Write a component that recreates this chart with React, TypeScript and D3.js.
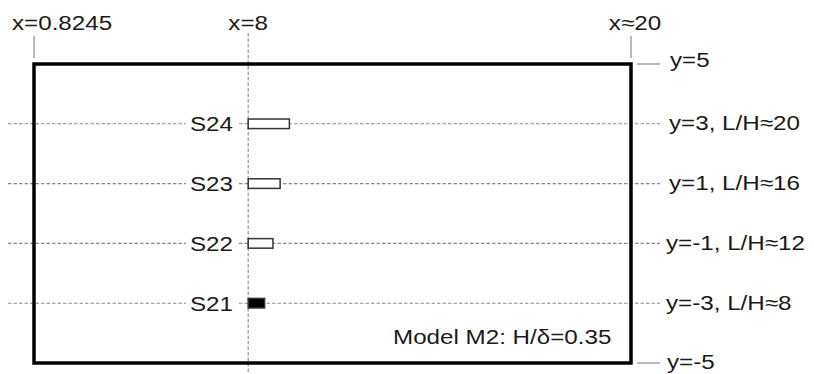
import React from "react";
import * as d3 from "d3";

const W = 814;
const H = 374;

// domain
const xDomain = [0.8245, 20.8245];
const yDomain = [-5, 5];
const xColumn = 8;

// specimens
const specimens = ["S21", "S22", "S23", "S24"];
const specimenY = [-3, -1, 1, 3];
const ratioLabels = ["L/H≈8", "L/H≈12", "L/H≈16", "L/H≈20"];
const barLengths = [0.55, 0.83, 1.07, 1.38];
const barFilled = [true, false, false, false];
const barThickness = 0.32;

const topLabels = ["x=0.8245", "x=8", "x≈20"];
const topLabelX = [0.8245, 8, 20.8245];
const boundLabels = ["y=5", "y=-5"];
const boundY = [5, -5];
const modelText = "Model M2: H/δ=0.35";

const FONT = "'Liberation Sans', Arial, Helvetica, sans-serif";
const FS = 20.5;
const SX = 1.18;

function T({ x, y, anchor = "start", children }: any) {
  return (
    <text
      transform={`translate(${x},${y}) scale(${SX},1)`}
      textAnchor={anchor}
      fontFamily={FONT}
      fontSize={FS}
      fill="#1a1a1a"
    >
      {children}
    </text>
  );
}

export default function App() {
  const x = d3.scaleLinear().domain(xDomain).range([34, 631]);
  const y = d3.scaleLinear().domain(yDomain).range([363, 64]);
  const xc = x(xColumn);

  return (
    <svg
      width={W}
      height={H}
      style={{ position: "absolute", left: 0, top: 0, background: "#fff" }}
    >
      <rect x={0} y={0} width={W} height={H} fill="#fff" />
      {/* horizontal dashed lines */}
      {specimenY.map((v, i) => (
        <line
          key={"h" + i}
          x1={8}
          x2={660}
          y1={y(v)}
          y2={y(v)}
          stroke="#8a8a8a"
          strokeWidth={1.1}
          strokeDasharray="3.5,2"
        />
      ))}
      {/* vertical dashed line */}
      <line
        x1={xc}
        x2={xc}
        y1={33}
        y2={H}
        stroke="#8a8a8a"
        strokeWidth={1.1}
        strokeDasharray="3.5,2"
      />
      {/* domain box */}
      <rect
        x={x(xDomain[0])}
        y={y(yDomain[1])}
        width={x(xDomain[1]) - x(xDomain[0])}
        height={y(yDomain[0]) - y(yDomain[1])}
        fill="none"
        stroke="#000"
        strokeWidth={3.5}
      />
      {/* top ticks */}
      {[xDomain[0], xDomain[1]].map((v, i) => (
        <line
          key={"tt" + i}
          x1={x(v)}
          x2={x(v)}
          y1={36}
          y2={58}
          stroke="#8a8a8a"
          strokeWidth={1.2}
        />
      ))}
      {/* right ticks */}
      {boundY.map((v, i) => (
        <line
          key={"rt" + i}
          x1={637}
          x2={660}
          y1={y(v)}
          y2={y(v)}
          stroke="#8a8a8a"
          strokeWidth={1.2}
        />
      ))}
      {/* top labels */}
      <T x={12} y={30}>{topLabels[0]}</T>
      <T x={x(topLabelX[1])} y={30} anchor="middle">{topLabels[1]}</T>
      <T x={x(topLabelX[2]) + 4} y={30} anchor="middle">{topLabels[2]}</T>
      {/* bound labels */}
      <T x={670} y={y(boundY[0]) + 3}>{boundLabels[0]}</T>
      <T x={667} y={y(boundY[1]) + 6}>{boundLabels[1]}</T>
      {/* specimen labels + bars */}
      {specimens.map((s, i) => {
        const yy = y(specimenY[i]);
        return (
          <g key={s}>
            <rect x={186} y={yy - 10} width={51} height={20} fill="#fff" />
            <T x={233} y={yy + 7.5} anchor="end">{s}</T>
            <rect
              x={xc}
              y={y(specimenY[i] + barThickness / 2)}
              width={x(xColumn + barLengths[i]) - xc}
              height={y(specimenY[i] - barThickness / 2) - y(specimenY[i] + barThickness / 2)}
              fill={barFilled[i] ? "#000" : "#fff"}
              stroke="#333"
              strokeWidth={1.5}
            />
            <T x={specimenY[i] < 0 ? 666 : 669} y={yy + 6.5}>
              {`y=${specimenY[i]}, ${ratioLabels[i]}`}
            </T>
          </g>
        );
      })}
      <T x={393} y={344}>{modelText}</T>
    </svg>
  );
}
